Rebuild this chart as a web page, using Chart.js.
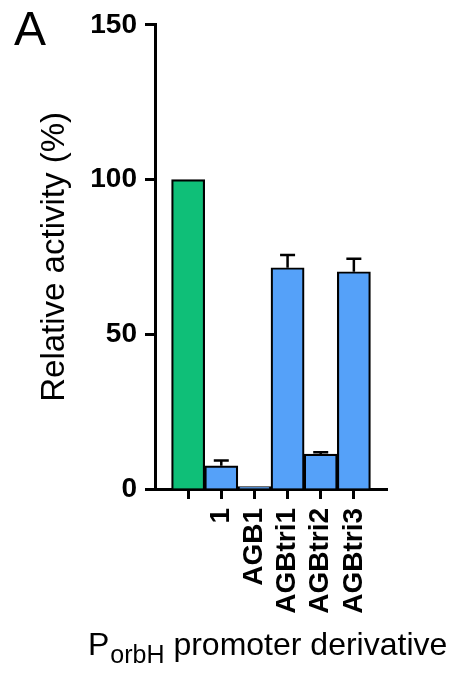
<!DOCTYPE html>
<html>
<head>
<meta charset="utf-8">
<script src="https://cdn.jsdelivr.net/npm/chart.js@4/dist/chart.umd.min.js"></script>
<style>
  html, body { margin: 0; padding: 0; background: #ffffff; }
  #wrap { position: relative; width: 460px; height: 673px; }
</style>
</head>
<body>
<div id="wrap"><canvas id="c" width="460" height="673"></canvas></div>
<script>
// ---- data ----
const categories = ["", "1", "AGB1", "AGBtri1", "AGBtri2", "AGBtri3"];
const activity   = [100, 7.5, 0.8, 71.5, 11.3, 70.2];
const errorUp    = [0, 1.7, 0, 4.1, 0.6, 4.2];
const barColors  = ["#0fbf78", "#55a1f9", "#55a1f9", "#55a1f9", "#55a1f9", "#55a1f9"];
const yTicks     = [0, 50, 100, 150];

const FONT = "'Liberation Sans', Arial, Helvetica, sans-serif";

const points = categories.map((c, i) => ({ x: i, y: activity[i] }));

const errorBarPlugin = {
  id: 'errorBars',
  afterDatasetsDraw(chart) {
    const ctx = chart.ctx;
    const meta = chart.getDatasetMeta(0);
    const ys = chart.scales.y;
    ctx.save();
    ctx.strokeStyle = '#000';
    ctx.lineWidth = 2.5;
    meta.data.forEach((bar, i) => {
      const e = errorUp[i];
      if (!e) return;
      const top = ys.getPixelForValue(activity[i] + e);
      const base = ys.getPixelForValue(activity[i]);
      ctx.beginPath();
      ctx.moveTo(bar.x, base);
      ctx.lineTo(bar.x, top);
      ctx.moveTo(bar.x - 7.5, top);
      ctx.lineTo(bar.x + 7.5, top);
      ctx.stroke();
    });
    ctx.restore();
  }
};

const textPlugin = {
  id: 'extraText',
  afterDraw(chart) {
    const ctx = chart.ctx;
    ctx.save();
    ctx.fillStyle = '#000';
    ctx.textBaseline = 'alphabetic';
    ctx.textAlign = 'left';
    // panel letter
    ctx.font = "48px " + FONT;
    ctx.fillText("A", 14, 45);
    // x axis title with subscript
    let x = 88;
    ctx.font = "32px " + FONT;
    ctx.fillText("P", x, 655);
    x += ctx.measureText("P").width + 1;
    ctx.font = "25px " + FONT;
    ctx.fillText("orbH", x, 663);
    x += ctx.measureText("orbH").width;
    ctx.font = "32px " + FONT;
    ctx.fillText(" promoter derivative", x, 655);
    ctx.restore();
  }
};

new Chart(document.getElementById('c'), {
  type: 'bar',
  data: {
    datasets: [{
      data: points,
      backgroundColor: barColors,
      borderColor: '#000',
      borderWidth: 2.2,
      barPercentage: 1,
      categoryPercentage: 1
    }]
  },
  options: {
    responsive: false,
    animation: false,
    layout: { padding: { top: 24, right: 73, left: 0, bottom: 0 } },
    plugins: { legend: { display: false }, tooltip: { enabled: false } },
    scales: {
      x: {
        type: 'linear',
        min: -1,
        max: 6,
        offset: false,
        bounds: 'data',
        afterBuildTicks(scale) {
          scale.ticks = categories.map((c, i) => ({ value: i }));
        },
        afterFit(scale) { scale.height = 184; },
        ticks: {
          autoSkip: false,
          minRotation: 90,
          maxRotation: 90,
          padding: 9,
          color: '#000',
          font: { family: FONT, size: 28, weight: 'bold' },
          callback: (v) => categories[v] !== undefined ? categories[v] : ''
        },
        grid: { offset: false, drawOnChartArea: false, tickLength: 10, tickWidth: 3, tickColor: '#000' },
        border: { display: true, color: '#000', width: 3 }
      },
      y: {
        min: 0,
        max: 150,
        afterBuildTicks(scale) {
          scale.ticks = yTicks.map(v => ({ value: v }));
        },
        afterFit(scale) { scale.width = 155; },
        ticks: {
          padding: 8,
          color: '#000',
          font: { family: FONT, size: 28, weight: 'bold' }
        },
        title: {
          display: true,
          text: 'Relative activity (%)',
          color: '#000',
          font: { family: FONT, size: 33, weight: 'normal' },
          padding: { top: 35, bottom: 0 }
        },
        grid: { drawOnChartArea: false, tickLength: 10, tickWidth: 3, tickColor: '#000' },
        border: { display: true, color: '#000', width: 3 }
      }
    }
  },
  plugins: [errorBarPlugin, textPlugin]
});
</script>
</body>
</html>
